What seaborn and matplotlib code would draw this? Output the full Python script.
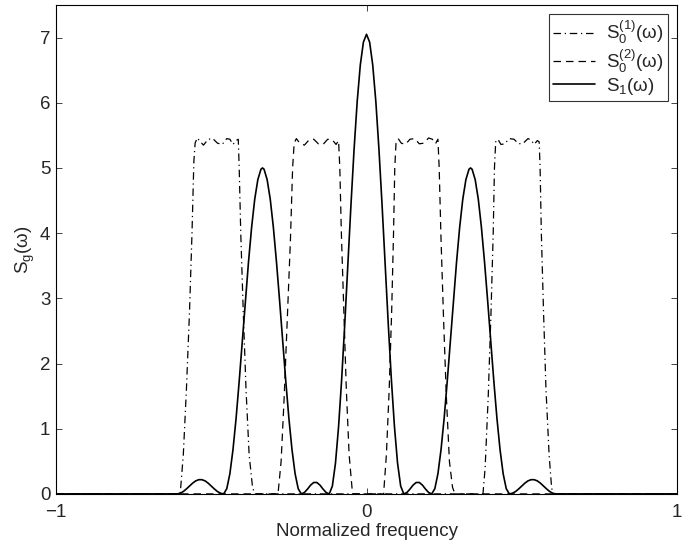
import matplotlib
matplotlib.use("Agg")
import matplotlib.pyplot as plt
import seaborn as sns
import pandas as pd

# S0^(1)(w): dash-dot bands at the outer positions
s01_x = [-1.0, -0.60, -0.59, -0.58, -0.57, -0.562, -0.556, -0.552, -0.545, -0.535,
         -0.525, -0.51, -0.495, -0.48, -0.465, -0.45, -0.44, -0.43, -0.42, -0.413,
         -0.41, -0.405, -0.397, -0.388, -0.378, -0.367, -0.36,
         0.375, 0.382, 0.392, 0.401, 0.408, 0.412, 0.416, 0.423, 0.433, 0.445,
         0.46, 0.475, 0.49, 0.505, 0.52, 0.53, 0.54, 0.55, 0.556,
         0.559, 0.563, 0.57, 0.578, 0.588, 0.596, 0.60, 1.0]
s01_y = [0.0, 0.0, 0.6, 1.6, 2.8, 4.0, 5.1, 5.38, 5.46, 5.40,
         5.35, 5.44, 5.45, 5.38, 5.36, 5.45, 5.44, 5.36, 5.42, 5.44,
         5.0, 4.0, 2.8, 1.6, 0.6, 0.1, 0.0,
         0.0, 0.4, 1.5, 2.8, 4.0, 5.0, 5.40, 5.44, 5.36, 5.37,
         5.45, 5.44, 5.37, 5.38, 5.45, 5.43, 5.36, 5.42, 5.40,
         5.0, 4.0, 2.8, 1.6, 0.6, 0.1, 0.0, 0.0]

# S0^(2)(w): dashed bands at the inner positions
s02_x = [-1.0, -0.285, -0.275, -0.265, -0.255, -0.245, -0.238, -0.233, -0.226, -0.215,
         -0.20, -0.185, -0.17, -0.155, -0.14, -0.125, -0.11, -0.098, -0.09,
         -0.086, -0.081, -0.073, -0.065, -0.056, -0.045,
         0.055, 0.064, 0.073, 0.081, 0.087, 0.091, 0.095, 0.102, 0.112, 0.125,
         0.14, 0.155, 0.17, 0.185, 0.20, 0.212, 0.222, 0.23,
         0.234, 0.24, 0.248, 0.257, 0.267, 0.277, 0.285, 1.0]
s02_y = [0.0, 0.0, 0.5, 1.5, 2.7, 3.9, 5.0, 5.38, 5.45, 5.38,
         5.35, 5.43, 5.44, 5.37, 5.36, 5.44, 5.43, 5.36, 5.42,
         5.0, 4.0, 2.8, 1.6, 0.6, 0.0,
         0.0, 0.6, 1.6, 2.8, 4.0, 5.0, 5.38, 5.45, 5.38, 5.36,
         5.44, 5.45, 5.37, 5.38, 5.46, 5.44, 5.37, 5.44,
         5.0, 3.9, 2.7, 1.5, 0.5, 0.1, 0.0, 0.0]

# S1(w): solid curve
s1_x = [-1.0, -0.62, -0.61, -0.60, -0.59, -0.58, -0.57, -0.56, -0.55, -0.54, -0.53,
        -0.52, -0.51, -0.50, -0.49, -0.48, -0.47, -0.46,
        -0.45, -0.44, -0.43, -0.42, -0.41, -0.40, -0.39, -0.38, -0.37, -0.36,
        -0.35, -0.34, -0.335, -0.33, -0.32, -0.31, -0.30, -0.29, -0.28, -0.27,
        -0.26, -0.25, -0.24, -0.23, -0.22, -0.21,
        -0.20, -0.19, -0.18, -0.17, -0.16, -0.15, -0.14, -0.13, -0.12,
        -0.11, -0.10, -0.09, -0.08, -0.07, -0.06, -0.05, -0.04, -0.03, -0.02, -0.01,
        0.0,
        0.01, 0.02, 0.03, 0.04, 0.05, 0.06, 0.07, 0.08, 0.09, 0.10, 0.11,
        0.12, 0.13, 0.14, 0.15, 0.16, 0.17, 0.18, 0.19, 0.20,
        0.21, 0.22, 0.23, 0.24, 0.25, 0.26, 0.27, 0.28, 0.29, 0.30, 0.31, 0.32,
        0.33, 0.335, 0.34, 0.35, 0.36, 0.37, 0.38, 0.39, 0.40, 0.41, 0.42, 0.43,
        0.44, 0.45, 0.46, 0.47, 0.48, 0.49, 0.50, 0.51, 0.52, 0.53, 0.54, 0.55,
        0.56, 0.57, 0.58, 0.59, 0.60, 0.61, 0.62, 1.0]
s1_y = [0.0, 0.0, 0.0, 0.01, 0.036, 0.076, 0.12, 0.165, 0.20, 0.218, 0.218,
        0.20, 0.165, 0.12, 0.076, 0.036, 0.01, 0.0,
        0.08, 0.31, 0.68, 1.16, 1.73, 2.34, 2.97, 3.56, 4.09, 4.52,
        4.82, 4.98, 5.0, 4.98, 4.82, 4.52, 4.09, 3.56, 2.97, 2.34,
        1.73, 1.16, 0.68, 0.31, 0.08, 0.0,
        0.021, 0.074, 0.135, 0.175, 0.175, 0.135, 0.074, 0.021, 0.0,
        0.12, 0.47, 1.03, 1.76, 2.61, 3.53, 4.44, 5.29, 6.02, 6.58, 6.93,
        7.05,
        6.93, 6.58, 6.02, 5.29, 4.44, 3.53, 2.61, 1.76, 1.03, 0.47, 0.12,
        0.0, 0.021, 0.074, 0.135, 0.175, 0.175, 0.135, 0.074, 0.021,
        0.0, 0.08, 0.31, 0.68, 1.16, 1.73, 2.34, 2.97, 3.56, 4.09, 4.52, 4.82,
        4.98, 5.0, 4.98, 4.82, 4.52, 4.09, 3.56, 2.97, 2.34, 1.73, 1.16, 0.68,
        0.31, 0.08, 0.0, 0.01, 0.036, 0.076, 0.12, 0.165, 0.20, 0.218, 0.218, 0.20,
        0.165, 0.12, 0.076, 0.036, 0.01, 0.0, 0.0, 0.0]

labels = [r'$\mathregular{S_0^{(1)}(\omega)}$',
          r'$\mathregular{S_0^{(2)}(\omega)}$',
          r'$\mathregular{S_1(\omega)}$']

sns.set_style("ticks")
plt.rcParams['font.family'] = ['Liberation Sans', 'DejaVu Sans']
plt.rcParams['mathtext.fontset'] = 'custom'
plt.rcParams['mathtext.rm'] = 'Liberation Sans'
plt.rcParams['mathtext.it'] = 'Liberation Sans'

fig = plt.figure(figsize=(6.87, 5.5), dpi=100)
ax = fig.add_axes([0.0815, 0.102, 0.904, 0.889])

df1 = pd.DataFrame({'x': s01_x, 'y': s01_y})
df2 = pd.DataFrame({'x': s02_x, 'y': s02_y})
df3 = pd.DataFrame({'x': s1_x, 'y': s1_y})

sns.lineplot(data=df1, x='x', y='y', ax=ax, color='black', lw=0.9,
             linestyle=(0, (6, 3, 1, 3)), sort=False, label=labels[0])
sns.lineplot(data=df2, x='x', y='y', ax=ax, color='black', lw=0.9,
             linestyle=(0, (6, 4)), sort=False, label=labels[1])
sns.lineplot(data=df3, x='x', y='y', ax=ax, color='black', lw=1.2,
             sort=False, label=labels[2])

ax.set_xlim(-1, 1)
ax.set_ylim(0, 7.5)
ax.set_xticks([-1, 0, 1])
ax.set_yticks(range(8))
ax.tick_params(direction='in', top=True, right=True, labelsize=13.5, length=4,
               width=0.6)
ax.tick_params(axis='x', pad=7)
ax.tick_params(axis='y', pad=4)
for sp in ax.spines.values():
    sp.set_linewidth(0.8)
    sp.set_color('black')
ax.set_xlabel('Normalized frequency', fontsize=13.5, labelpad=2)
ax.set_ylabel(r'$\mathregular{S_g(\omega)}$', fontsize=13.5, labelpad=2)

leg = ax.legend(loc='upper right', fontsize=13.5, frameon=True, fancybox=False,
                borderaxespad=0.5, handlelength=2.2, labelspacing=0.05,
                borderpad=0.25, handletextpad=0.6)
leg.get_frame().set_edgecolor('black')
leg.get_frame().set_linewidth(0.8)

fig.savefig('out.png', dpi=100)
